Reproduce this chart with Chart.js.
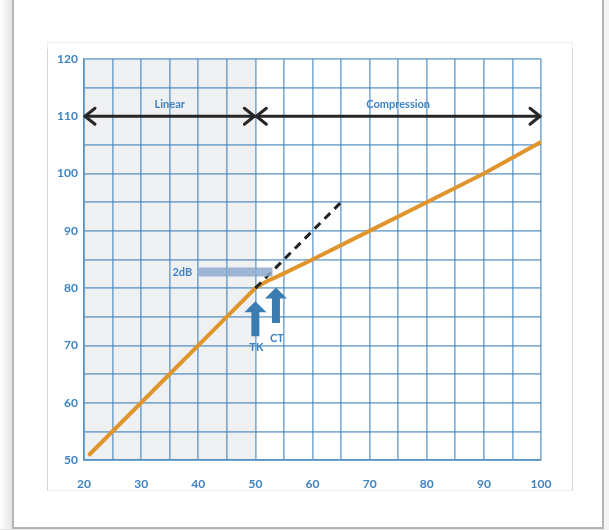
<!DOCTYPE html>
<html>
<head>
<meta charset="utf-8">
<script src="https://cdn.jsdelivr.net/npm/chart.js@4"></script>
<style>
  body { margin: 0; background: #fff; }
  canvas { display: block; }
</style>
</head>
<body>
<canvas id="wdrc-chart" width="609" height="530"></canvas>
<script>
// input level (x) vs output level (y), dB
const outputX = [21, 50, 52, 54, 60, 70, 80, 90, 100];
const outputY = [51, 80, 81.2, 82.1, 85, 90, 95, 100, 105.5];

// linear continuation above the kneepoint
const linearX = [50, 65];
const linearY = [80, 95];

// the 2dB gap marker
const gapX = [40, 53];
const gapY = [82.8, 82.8];

const xTicks = [20, 30, 40, 50, 60, 70, 80, 90, 100];
const yTicks = [50, 60, 70, 80, 90, 100, 110, 120];

const regions = [
  { label: "Linear", from: 20, to: 50 },
  { label: "Compression", from: 50, to: 100 },
];
const regionArrowY = 110;

const markers = [
  { label: "TK", x: 50, tip: 77.7, base: 71.6, textY: 69.6 },
  { label: "CT", x: 53.6, tip: 80.1, base: 73.9, textY: 71.3 },
];

const blue = "#3f83c2";
const gridBlue = "rgba(58,128,185,0.62)";

const toPoints = (xs, ys) => xs.map((x, i) => ({ x: x, y: ys[i] }));

// page frame + shaded linear region (under the grid)
const backdrop = {
  id: "backdrop",
  beforeDraw(chart) {
    const c = chart.ctx;
    const { x, y } = chart.scales;
    const area = chart.chartArea;
    c.save();
    // left shadow of the outer frame
    const grad = c.createLinearGradient(0, 0, 13, 0);
    grad.addColorStop(0, "#ffffff");
    grad.addColorStop(1, "#e2e2e2");
    c.fillStyle = grad;
    c.fillRect(0, 0, 13, 530);
    c.fillStyle = "#e6e6e6";
    c.fillRect(0, 529, 609, 1);
    c.fillStyle = "#f4f4f4";
    c.fillRect(604, 0, 5, 530);
    c.strokeStyle = "#b4b4b4";
    c.lineWidth = 2;
    c.beginPath();
    c.moveTo(13, 0);
    c.lineTo(13, 528);
    c.lineTo(603, 528);
    c.lineTo(603, 0);
    c.stroke();
    // inner panel
    c.lineWidth = 1;
    c.strokeStyle = "#f0f0f0";
    c.strokeRect(47.5, 42.5, 525, 448);
    c.strokeStyle = "#d4d4d4";
    c.beginPath();
    c.moveTo(47.5, 49);
    c.lineTo(47.5, 491);
    c.moveTo(572.5, 49);
    c.lineTo(572.5, 491);
    c.stroke();
    // shaded linear zone
    const r = regions[0];
    c.fillStyle = "#eff0f2";
    c.fillRect(x.getPixelForValue(r.from), area.top,
      x.getPixelForValue(r.to) - x.getPixelForValue(r.from), area.bottom - area.top);
    c.restore();
  },
};

function chevron(c, px, py, dir) {
  c.beginPath();
  c.moveTo(px + dir * 10, py - 8);
  c.lineTo(px, py);
  c.lineTo(px + dir * 10, py + 8);
  c.stroke();
}

// region arrows, labels, TK / CT arrows
const notes = {
  id: "notes",
  afterDatasetsDraw(chart) {
    const c = chart.ctx;
    const { x, y } = chart.scales;
    c.save();
    c.lineCap = "round";
    c.lineJoin = "round";

    const ay = y.getPixelForValue(regionArrowY);
    regions.forEach((r) => {
      const x0 = x.getPixelForValue(r.from);
      const x1 = x.getPixelForValue(r.to);
      c.strokeStyle = "#272727";
      c.lineWidth = 3;
      c.beginPath();
      c.moveTo(x0 + 1, ay);
      c.lineTo(x1 - 1, ay);
      c.stroke();
      chevron(c, x0 + 1, ay, 1);
      chevron(c, x1 - 1, ay, -1);
      c.fillStyle = blue;
      c.font = "bold 11px Lato";
      c.textAlign = "center";
      c.textBaseline = "middle";
      c.fillText(r.label, (x0 + x1) / 2, ay - 12);
    });

    // 2dB label
    c.fillStyle = blue;
    c.font = "bold 11px Lato";
    c.textAlign = "right";
    c.textBaseline = "middle";
    c.fillText("2dB", x.getPixelForValue(gapX[0]) - 6, y.getPixelForValue(gapY[0]));

    markers.forEach((m) => {
      const px = x.getPixelForValue(m.x);
      const tip = y.getPixelForValue(m.tip);
      const base = y.getPixelForValue(m.base);
      c.fillStyle = "#3b7db1";
      c.beginPath();
      c.moveTo(px, tip);
      c.lineTo(px + 11, tip + 11);
      c.lineTo(px + 4, tip + 11);
      c.lineTo(px + 4, base);
      c.lineTo(px - 4, base);
      c.lineTo(px - 4, tip + 11);
      c.lineTo(px - 11, tip + 11);
      c.closePath();
      c.fill();
      c.fillStyle = blue;
      c.font = "bold 11px Lato";
      c.textAlign = "center";
      c.fillText(m.label, px + 1, y.getPixelForValue(m.textY));
    });
    c.restore();
  },
};

const ctx = document.getElementById("wdrc-chart");

new Chart(ctx, {
  type: "line",
  data: {
    datasets: [
      {
        data: toPoints(gapX, gapY),
        borderColor: "rgba(140,170,205,0.85)",
        borderWidth: 9,
        borderCapStyle: "butt",
        pointRadius: 0,
      },
      {
        data: toPoints(linearX, linearY),
        borderColor: "#222",
        borderWidth: 3,
        borderDash: [8, 6],
        pointRadius: 0,
      },
      {
        data: toPoints(outputX, outputY),
        borderColor: "#e0952c",
        borderWidth: 4,
        borderCapStyle: "round",
        borderJoinStyle: "round",
        tension: 0,
        pointRadius: 0,
      },
    ],
  },
  options: {
    responsive: false,
    animation: false,
    layout: { padding: { top: 59, right: 68, left: 0, bottom: 0 } },
    plugins: {
      legend: { display: false },
      tooltip: { enabled: false },
    },
    scales: {
      x: {
        type: "linear",
        min: 20,
        max: 100,
        afterFit: (s) => { s.height = 70; },
        afterBuildTicks: (s) => {
          const t = [];
          for (let v = 20; v <= 100; v += 5) t.push({ value: v });
          s.ticks = t;
        },
        ticks: {
          padding: 17,
          autoSkip: false,
          maxRotation: 0,
          color: blue,
          font: { family: "Lato", size: 12, weight: "bold" },
          callback: (v) => (xTicks.includes(v) ? String(v) : ""),
        },
        grid: { color: gridBlue, lineWidth: 1.7, drawTicks: false },
        border: { color: gridBlue, width: 1.7 },
      },
      y: {
        min: 50,
        max: 120,
        afterFit: (s) => { s.width = 84; },
        afterBuildTicks: (s) => {
          const t = [];
          for (let v = 50; v <= 120; v += 5) t.push({ value: v });
          s.ticks = t;
        },
        ticks: {
          padding: 6,
          autoSkip: false,
          color: blue,
          font: { family: "Lato", size: 12, weight: "bold" },
          callback: (v) => (yTicks.includes(v) ? String(v) : ""),
        },
        grid: { color: gridBlue, lineWidth: 1.7, drawTicks: false },
        border: { color: gridBlue, width: 1.7 },
      },
    },
  },
  plugins: [backdrop, notes],
});
</script>
</body>
</html>
